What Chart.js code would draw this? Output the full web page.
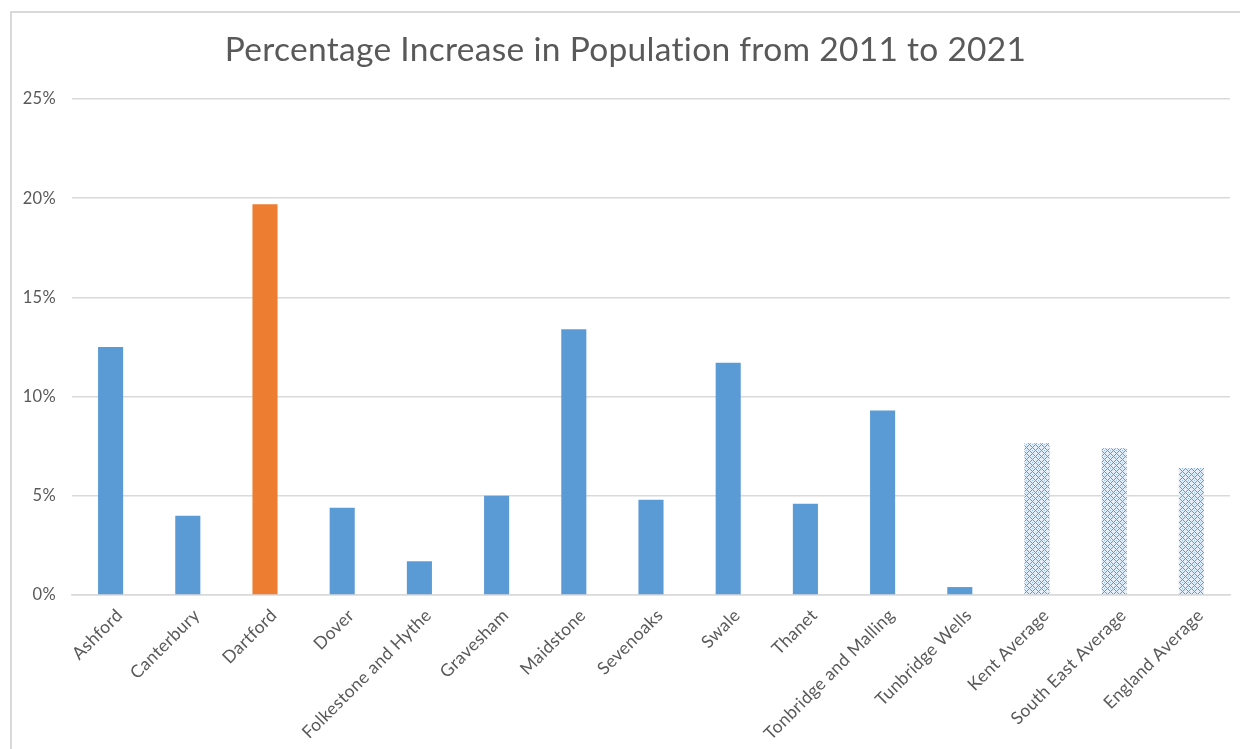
<!DOCTYPE html>
<html>
<head>
<meta charset="utf-8">
<script src="https://cdn.jsdelivr.net/npm/chart.js@4/dist/chart.umd.min.js"></script>
<style>
  html, body { margin: 0; padding: 0; background: #ffffff; }
  #wrap { position: relative; width: 1240px; height: 749px; overflow: hidden; }
  #frame { position: absolute; left: 10px; top: 11px; width: 1300px; height: 800px;
           border: 2px solid #d9d9d9; box-sizing: border-box; pointer-events: none; }
  canvas { position: absolute; left: 0; top: 0; }
</style>
</head>
<body>
<div id="wrap">
  <canvas id="chart" width="1240" height="749"></canvas>
  <div id="frame"></div>
</div>
<script>
// Districts and comparison averages
const categories = [
  'Ashford', 'Canterbury', 'Dartford', 'Dover', 'Folkestone and Hythe',
  'Gravesham', 'Maidstone', 'Sevenoaks', 'Swale', 'Thanet',
  'Tonbridge and Malling', 'Tunbridge Wells', 'Kent Average',
  'South East Average', 'England Average'
];
// Percentage increase 2011 -> 2021
const increase = [12.5, 4.0, 19.7, 4.4, 1.7, 5.0, 13.4, 4.8, 11.7, 4.6, 9.3, 0.4, 7.65, 7.4, 6.4];
const yTicks = [0, 5, 10, 15, 20, 25];

const BLUE = '#5B9BD5';
const ORANGE = '#ED7D31';

// Diamond lattice fill used for the average bars
function latticePattern() {
  const n = 6;
  const c = document.createElement('canvas');
  c.width = n; c.height = n;
  const g = c.getContext('2d');
  g.fillStyle = '#e4eef8';
  g.fillRect(0, 0, n, n);
  g.fillStyle = BLUE;
  for (let x = 0; x < n; x++) {
    for (let y = 0; y < n; y++) {
      if ((x + y) % n === 3 || (x - y + n) % n === 3) g.fillRect(x, y, 1, 1);
    }
  }
  g.fillStyle = 'rgba(91,155,213,0.55)';
  g.fillRect(0, 0, 1, 1);
  return g.createPattern(c, 'repeat');
}
const lattice = latticePattern();

const fills = categories.map((name) => {
  if (name === 'Dartford') return ORANGE;
  if (name.endsWith('Average')) return lattice;
  return BLUE;
});

const TEXT = '#595959';
const FONT = 'Lato, "Open Sans", sans-serif';

// Slight tracking on all chart text (also keeps letter pairs unjoined)
const tracking = {
  id: 'tracking',
  beforeDraw(chart) { chart.ctx.letterSpacing = '0.3px'; }
};

new Chart(document.getElementById('chart'), {
  type: 'bar',
  data: {
    labels: categories,
    datasets: [{
      data: increase,
      backgroundColor: fills,
      borderWidth: 0,
      barPercentage: 0.325,
      categoryPercentage: 1.0
    }]
  },
  plugins: [tracking],
  options: {
    responsive: false,
    animation: false,
    layout: { padding: { left: 21, right: 10, top: 0, bottom: 0 } },
    plugins: {
      legend: { display: false },
      tooltip: { enabled: false },
      title: {
        display: true,
        text: 'Percentage Increase in Population from 2011 to 2021',
        color: TEXT,
        font: { family: FONT, size: 33.5, weight: 'normal', lineHeight: '36px' },
        padding: { top: 32, bottom: 31 }
      }
    },
    scales: {
      x: {
        grid: { display: false, drawTicks: false },
        border: { display: true, color: '#d9d9d9', width: 1.5 },
        ticks: {
          color: TEXT,
          font: { family: FONT, size: 17.5 },
          minRotation: 45,
          maxRotation: 45,
          autoSkip: false,
          padding: 10,
          labelOffset: 9
        },
        afterFit: (s) => { s.height = 154; }
      },
      y: {
        min: 0,
        max: 25,
        afterBuildTicks: (s) => { s.ticks = yTicks.map(v => ({ value: v })); },
        grid: { color: '#d9d9d9', lineWidth: 1.5, drawTicks: false },
        border: { display: false },
        ticks: {
          color: TEXT,
          font: { family: FONT, size: 16.5 },
          padding: 16,
          callback: (v) => v + '%'
        },
        afterFit: (s) => { s.width = 51; }
      }
    }
  }
});
</script>
</body>
</html>
